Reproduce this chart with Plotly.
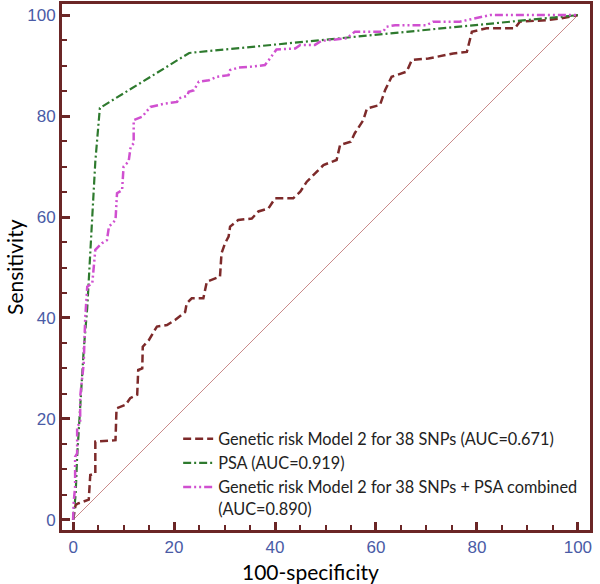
import plotly.graph_objects as go

# ---- data ----
genetic_x = [0, 0.5, 1.1, 3.1, 3.4, 4.4, 4.4, 8.4, 8.6, 10.4,
             11.3, 12.7, 12.9, 13.7, 13.8, 15.0, 16.6, 18.6, 20.2, 22.2,
             22.5, 23.5, 25.8, 26.5, 29.1, 29.4, 30.1, 30.8, 31.1, 32.7,
             35.4, 36.7, 38.7, 40.0, 43.6, 45.0, 46.3, 49.6, 52.2, 52.9,
             55.0, 55.8, 57.5, 58.2, 60.8, 61.8, 63.1, 66.1, 67.1, 70.4,
             75.3, 78.0, 79.0, 81.9, 87.5, 88.5, 93.8, 96.4, 100]
genetic_y = [0, 3.0, 3.3, 4.0, 8.9, 9.2, 15.5, 15.8, 22.1, 22.8,
             24.1, 24.8, 29.7, 30.0, 34.3, 35.6, 38.3, 38.6, 39.6, 41.2,
             42.9, 43.9, 43.9, 47.2, 48.2, 52.8, 54.8, 56.1, 58.1, 59.4,
             59.7, 61.1, 61.7, 63.7, 63.7, 65.0, 67.0, 70.3, 71.3, 74.3,
             74.9, 76.6, 79.2, 81.5, 82.2, 85.1, 87.8, 88.8, 91.1, 91.4,
             92.4, 92.7, 96.7, 97.4, 97.4, 98.7, 99.0, 99.3, 100]

psa_x = [0, 0.5, 0.8, 1.4, 2.1, 2.8, 3.8, 4.4, 5.3, 23.0, 100]
psa_y = [0, 5, 12.5, 23, 33.7, 42, 61.4, 71, 81.6, 92.5, 100]

comb_x = [0, 0.1, 0.4, 0.4, 0.8, 0.8, 1.4, 1.4, 2.1, 2.4,
          2.8, 3.8, 4.4, 5.7, 6.7, 7.1, 8.4, 8.7, 9.7, 10.0,
          11.0, 11.4, 12.0, 12.0, 13.7, 15.3, 18.3, 20.6, 20.9, 22.6,
          22.9, 23.9, 24.9, 26.9, 28.5, 30.8, 31.1, 32.8, 35.4, 38.0,
          39.0, 40.3, 44.0, 45.0, 47.9, 49.2, 54.2, 55.8, 61.4, 62.1,
          63.8, 70.0, 71.3, 76.6, 82.6, 100]
comb_y = [0, 3.3, 6.6, 12.5, 13.2, 18.5, 19.2, 24.4, 31.0, 40.0,
          46.2, 46.9, 53.5, 54.8, 55.4, 58.1, 59.4, 64.7, 65.3, 70.0,
          71.0, 73.9, 74.6, 79.2, 79.9, 81.8, 82.5, 82.8, 83.5, 84.0,
          84.8, 85.1, 86.8, 87.1, 87.8, 88.1, 89.1, 89.6, 89.8, 90.1,
          91.4, 93.2, 93.4, 94.1, 94.1, 94.9, 95.4, 96.7, 96.7, 97.7,
          98.0, 98.0, 98.7, 98.7, 100, 100]

diag_x = [0, 100]
diag_y = [0, 100]

names = ["Genetic risk Model 2 for 38 SNPs (AUC=0.671)",
         "PSA (AUC=0.919)",
         "Genetic risk Model 2 for 38 SNPs + PSA combined<br>(AUC=0.890)"]
tick_vals = [0, 20, 40, 60, 80, 100]
x_title = "100-specificity"
y_title = "Sensitivity"

FRAME = "#6b2626"
TICKC = "#4a5ba6"
TITLE_FONT = dict(family="Lato, Open Sans", size=21, color="black")

fig = go.Figure()
fig.add_trace(go.Scatter(x=diag_x, y=diag_y, mode="lines", showlegend=False,
                         line=dict(color="#c98a8a", width=1), hoverinfo="skip"))
fig.add_trace(go.Scatter(x=genetic_x, y=genetic_y, mode="lines", name=names[0],
                         line=dict(color="#7d2a2a", width=2.5, dash="8px,4px")))
fig.add_trace(go.Scatter(x=psa_x, y=psa_y, mode="lines", name=names[1],
                         line=dict(color="#2e7a2e", width=2.2, dash="8px,3px,2px,3px")))
fig.add_trace(go.Scatter(x=comb_x, y=comb_y, mode="lines", name=names[2],
                         line=dict(color="#d050d0", width=2.5,
                                   dash="8px,3px,2px,3px,2px,3px")))

axis_common = dict(
    showline=True, linecolor=FRAME, linewidth=3, mirror=True,
    showgrid=False, zeroline=False, automargin=False,
    ticks="inside", ticklen=8, tickwidth=3, tickcolor=FRAME,
    tickvals=tick_vals,
    minor=dict(ticks="inside", ticklen=5, tickwidth=2, tickcolor=FRAME, dtick=5,
               showgrid=False),
    tickfont=dict(family="Liberation Sans, Arial", size=17, color=TICKC),
)

fig.update_layout(
    width=600, height=584,
    margin=dict(l=62, r=10, t=4, b=54),
    paper_bgcolor="white", plot_bgcolor="white",
    xaxis=dict(range=[-2.2, 102.4], **axis_common),
    yaxis=dict(range=[-2.0, 102.2], **axis_common),
    legend=dict(x=0.22, y=0.206, xanchor="left", yanchor="top",
                bgcolor="rgba(0,0,0,0)", valign="top",
                font=dict(family="Lato, Open Sans", size=16.3, color="#222222"),
                tracegroupgap=0),
    showlegend=True,
    annotations=[
        dict(text=x_title, xref="paper", yref="paper", x=0.471, y=-0.078,
             xanchor="center", yanchor="middle", showarrow=False, font=TITLE_FONT),
        dict(text=y_title, xref="paper", yref="paper", x=-0.091, y=0.5,
             xanchor="center", yanchor="middle", showarrow=False, textangle=-90,
             font=TITLE_FONT),
    ],
)

fig.write_html("out.html", config={"displayModeBar": False},
               post_script="document.body.style.margin='0px';document.body.style.overflow='hidden';")
